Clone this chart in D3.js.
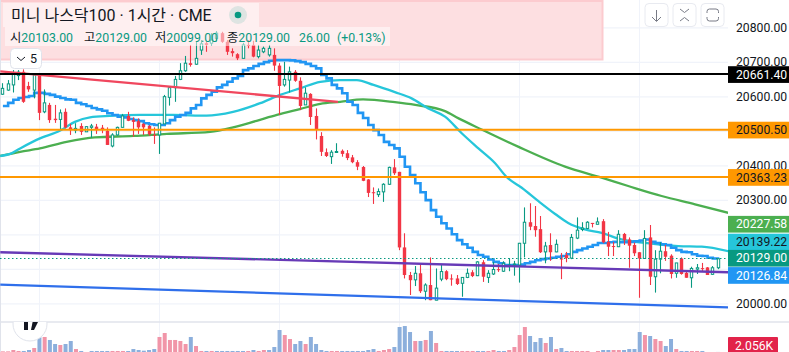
<!DOCTYPE html>
<html>
<head>
<meta charset="utf-8">
<script src="https://cdn.jsdelivr.net/npm/d3@7"></script>
<style>
html, body { margin: 0; padding: 0; background: #fff; overflow: hidden; }
svg { display: block; }
text { font-family: Roboto, "Noto Sans CJK KR", sans-serif; }
</style>
</head>
<body>
<script>
// hourly candles
const opens = [
20606,20618,20633,20660,20671,20630,20618,20662,20555,20575,
20535,20533,20555,20510,20502,20514,20497,20510,20512,20509,
20500,20456,20488,20510,20543,20531,20528,20520,20514,20488,
20488,20520,20597,20625,20649,20674,20696,20693,20734,20754,
20754,20768,20783,20758,20731,20722,20710,20749,20749,20715,
20729,20720,20720,20689,20633,20647,20671,20645,20575,20607,
20543,20485,20438,20425,20439,20442,20435,20423,20409,20395,
20359,20322,20315,20323,20345,20394,20381,20162,20082,20068,
20087,20035,20053,20009,20070,20093,20072,20072,20058,20075,
20090,20080,20119,20075,20085,20099,20093,20109,20111,20111,
20174,20235,20224,20215,20149,20169,20149,20130,20140,20131,
20189,20214,20217,20233,20229,20238,20178,20166,20164,20201,
20185,20169,20148,20130,20191,20077,20128,20151,20138,20087,
20130,20088,20074,20099,20102,20104,20084,20103];
const closes = [
20623,20636,20665,20670,20584,20620,20662,20552,20581,20531,
20531,20552,20510,20502,20507,20497,20512,20514,20502,20502,
20459,20488,20510,20543,20529,20526,20510,20510,20490,20486,
20522,20599,20625,20649,20674,20696,20691,20710,20752,20749,
20763,20783,20758,20729,20725,20710,20749,20746,20715,20734,
20739,20739,20689,20630,20649,20671,20645,20572,20609,20540,
20504,20439,20427,20438,20440,20433,20421,20409,20396,20355,
20320,20319,20324,20345,20394,20377,20162,20082,20067,20087,
20035,20053,20009,20044,20092,20070,20070,20056,20075,20087,
20079,20120,20077,20087,20098,20096,20116,20111,20114,20174,
20235,20222,20212,20148,20166,20148,20171,20127,20131,20191,
20212,20218,20235,20230,20236,20177,20164,20164,20200,20183,
20167,20145,20130,20188,20077,20128,20151,20135,20085,20117,
20085,20074,20101,20103,20099,20082,20103,20129];
const highs = [
20638,20647,20676,20676,20678,20642,20665,20667,20620,20581,
20575,20562,20565,20520,20522,20522,20514,20520,20520,20517,
20510,20493,20512,20549,20555,20539,20536,20522,20517,20510,
20522,20604,20628,20659,20696,20717,20749,20758,20763,20758,
20783,20789,20787,20763,20739,20725,20755,20763,20761,20749,
20744,20749,20739,20696,20700,20686,20676,20655,20626,20609,
20565,20496,20449,20444,20464,20446,20444,20430,20415,20398,
20360,20336,20333,20348,20396,20418,20381,20203,20091,20108,
20116,20058,20133,20101,20114,20096,20084,20082,20076,20101,
20096,20122,20125,20096,20120,20114,20122,20131,20123,20175,
20278,20290,20282,20253,20178,20203,20185,20146,20149,20201,
20249,20235,20238,20233,20249,20244,20207,20178,20212,20204,
20191,20176,20148,20212,20227,20154,20177,20169,20142,20117,
20133,20091,20106,20114,20117,20105,20108,20129];
const lows = [
20604,20616,20611,20647,20581,20613,20594,20531,20551,20523,
20523,20504,20507,20488,20493,20488,20497,20480,20491,20493,
20459,20452,20486,20510,20528,20483,20491,20488,20486,20462,
20433,20520,20573,20584,20647,20671,20686,20691,20720,20729,
20746,20758,20755,20720,20715,20705,20710,20739,20713,20710,
20725,20715,20674,20546,20628,20611,20642,20560,20575,20517,
20475,20427,20424,20404,20438,20425,20415,20406,20386,20354,
20308,20288,20308,20294,20343,20372,20154,20072,20024,20050,
20030,20009,20009,20009,20064,20067,20051,20053,20019,20073,
20076,20079,20062,20059,20082,20091,20091,20093,20080,20060,
20133,20212,20193,20146,20116,20123,20148,20070,20119,20128,
20186,20209,20215,20220,20229,20174,20137,20137,20163,20169,
20103,20137,20016,20130,20053,20031,20087,20123,20072,20074,
20083,20074,20045,20085,20093,20082,20082,20099];

// volume in thousands, the pane cuts the bars off at the bottom
const volumes = [
3.2,3.2,5.8,3.9,3.9,5.8,9.7,30.3,31,25.2,
17.4,15.5,17.4,23.2,7.7,3.9,1.5,3.9,3.9,3.9,
3.9,3.9,3.9,3.9,3.9,7.7,5.8,4.5,5.8,7.7,
31,38.7,25.2,25.2,23.2,17.4,31,13.5,3.9,3.9,
3.9,3.9,3.9,3.9,3.9,3.9,3.9,3.9,5.8,3.9,
5.8,5.8,11.6,44.5,34.8,27.1,17.4,23.2,17.4,31,
17.4,5.8,3.9,3.9,3.9,3.9,3.9,3.9,3.9,3.9,
5.8,7.7,3.9,5.8,7.7,11.6,50.3,52.2,40.6,23.2,
23.2,25.2,42.6,19.4,3.9,3.9,3.9,3.9,3.9,3.9,
3.9,3.9,3.9,3.9,5.8,3.9,3.9,5.8,11.6,34.8,
50.3,32.9,21.3,29,19.4,31,7.7,9.7,3.9,3.9,
3.9,3.9,3.9,1.5,3.9,5.8,5.8,5.8,5.8,5.8,
7.7,7.7,40.6,34.8,32.9,27.1,23.2,13.5,27.1,7.7,
3.9,3.9,3.9,3.9,3.9,1.5,1.5,2.056];
const volDownBars = [0,1,2,3,6,8,11,14,21,22,23,30,31,32,33,34,35,37,38,40,47,49,50,54,55,58,63,64,72,73,74,79,81,83,84,88,89,90,93,94,97,98,99,100,104,106,109,110,111,112,114,117,118,123,125,126,129,132,133];

// stepped line
const stepValues = [
20572,20581,20590,20595,20598,20601,20610,20610,20607,20604,
20599,20595,20591,20590,20581,20577,20572,20566,20562,20558,
20551,20546,20541,20539,20534,20531,20528,20522,20519,20517,
20517,20522,20531,20541,20546,20552,20565,20575,20594,20604,
20613,20626,20633,20642,20652,20659,20676,20681,20688,20694,
20699,20703,20705,20705,20705,20704,20702,20699,20694,20688,
20681,20662,20652,20633,20623,20609,20584,20575,20552,20537,
20517,20502,20488,20468,20459,20449,20425,20396,20372,20348,
20322,20299,20270,20251,20232,20217,20200,20183,20171,20161,
20149,20140,20135,20127,20120,20116,20111,20111,20111,20112,
20116,20120,20125,20128,20130,20132,20135,20137,20142,20149,
20154,20159,20164,20169,20175,20175,20177,20178,20177,20177,
20178,20180,20182,20185,20178,20175,20171,20169,20161,20154,
20149,20148,20142,20138,20137,20132,20130,20126.84];

// smooth averages, read at a few bars each
const cyanBars = [-0.5,1.4,3.3,7.1,10.9,13.8,16.7,20.5,26.3,32.6,39,44.1,49.3,53.1,56.9,60.8,64.6,67.8,71,75.1,78.3,81.5,84.7,87.9,91.1,94.3,96.5,99.4,102.6,105.8,108.3,111.5,114.7,118.5,123,129.4,133.9,139];
const cyanValues = [20427,20433,20449,20478,20500,20526,20539,20543,20546,20546,20544,20555,20580,20604,20623,20642,20647,20647,20633,20612,20594,20565,20541,20493,20449,20406,20366,20335,20296,20259,20233,20214,20204,20185,20175,20166,20164,20151];
const greenBars = [-0.5,3.3,7.1,12.2,17.6,25,31.4,39.7,44.1,48.6,52.5,56.9,60.8,64.6,69,75.1,79,84.7,87.3,91.7,98.7,107.7,114.7,119.8,126.2,132.6,139];
const greenValues = [20427,20439,20449,20468,20481,20485,20491,20497,20510,20529,20546,20563,20578,20584,20591,20583,20575,20557,20536,20504,20454,20396,20364,20340,20311,20287,20262];

// trend lines, [bar, price]
const redTrend = [[-0.5,20672],[64.2,20584]];
const purpleTrend = [[-0.5,20148],[139,20090]];
const blueTrend = [[-0.5,20054],[139,19988]];

const levels = [20661.40, 20500.50, 20363.23];
const priceTicks = [20000,20100,20200,20300,20400,20500,20600,20700,20800];
const coveredTicks = [20100,20200,20500]; // fully under the coloured labels
const dayBars = [7,30,53,76,99,122];

const lastClose = 20129.00;
const stepLast = 20126.84;
const cyanLast = 20139.22;
const greenLast = 20227.58;
const volumeLabel = "2.056K";

const titleText = "미니 나스닥100 · 1시간 · CME";
const ohlcKeys = ["시","고","저","종"];
const ohlcVals = ["20103.00","20129.00","20099.00","20129.00"];
const changeText = ["26.00","(+0.13%)"];

const width = 789, height = 352;
const paneRight = 728, paneBottom = 322;
const upColor = "#089981", downColor = "#f23645";

const x = d3.scaleLinear().domain([0,137]).range([2.9,718]);
const y = d3.scaleLinear().domain([20000,20800]).range([303.3,27.3]);
const yVol = d3.scaleLinear().domain([0,60]).range([353,322]);

const svg = d3.select("body").append("svg").attr("width",width).attr("height",height);

svg.append("clipPath").attr("id","pane").append("rect").attr("width",paneRight).attr("height",paneBottom);
svg.append("clipPath").attr("id","volPane").append("rect").attr("y",paneBottom).attr("width",paneRight).attr("height",height-paneBottom);

// grid
const gridGroup = svg.append("g");
gridGroup.selectAll("line.v").data(dayBars).enter().append("line")
	.attr("x1",function(d){ return Math.floor(x(d))+0.5; })
	.attr("x2",function(d){ return Math.floor(x(d))+0.5; })
	.attr("y1",0).attr("y2",height)
	.attr("stroke","#f0f3fa");
const yGrid = d3.axisLeft(y).tickValues(priceTicks).tickSize(paneRight).tickFormat("");
gridGroup.append("g").attr("transform","translate("+paneRight+",0)").call(yGrid)
	.call(function(g){ g.select(".domain").remove(); })
	.selectAll("line").attr("stroke","#f0f3fa").attr("stroke-width",1.2);

// pink zone behind the candles
svg.append("rect").attr("x",-2).attr("y",1).attr("width",604.5).attr("height",58.5)
	.attr("fill","#fddfe1").attr("stroke","#fccbcf").attr("stroke-width",2);

// pane borders
svg.append("line").attr("x1",0.5).attr("x2",0.5).attr("y1",0).attr("y2",height).attr("stroke","#e0e3eb");
svg.append("line").attr("x1",0).attr("x2",width).attr("y1",paneBottom).attr("y2",paneBottom).attr("stroke","#e0e3eb").attr("stroke-width",1.5);

// volume
svg.append("g").attr("clip-path","url(#volPane)").selectAll("rect").data(volumes).enter().append("rect")
	.attr("x",function(d,i){ return x(i)-2; })
	.attr("width",4)
	.attr("y",function(d){ return yVol(d); })
	.attr("height",function(d){ return yVol(0)-yVol(d); })
	.attr("fill",function(d,i){ return volDownBars.indexOf(i)>=0 ? "#f195a8" : "#8cafdc"; });

const plot = svg.append("g").attr("clip-path","url(#pane)");

// averages
const smooth = d3.line().x(function(d){ return x(d[0]); }).y(function(d){ return y(d[1]); }).curve(d3.curveMonotoneX);
plot.append("path").attr("d",smooth(d3.zip(greenBars,greenValues)))
	.attr("fill","none").attr("stroke","#4caf50").attr("stroke-width",2.3);
plot.append("path").attr("d",smooth(d3.zip(cyanBars,cyanValues)))
	.attr("fill","none").attr("stroke","#26c6da").attr("stroke-width",2.3);

const stepped = d3.line().x(function(d,i){ return x(i); }).y(function(d){ return y(d); }).curve(d3.curveStepAfter);
plot.append("path").attr("d",stepped(stepValues))
	.attr("fill","none").attr("stroke","#2196f3").attr("stroke-width",2.6);

// candles
const candle = plot.selectAll("g.candle").data(closes).enter().append("g").attr("class","candle");
function cx(i){ return Math.round(x(i)-0.5)+0.5; }
candle.append("line")
	.attr("x1",function(d,i){ return cx(i); })
	.attr("x2",function(d,i){ return cx(i); })
	.attr("y1",function(d,i){ return y(highs[i]); })
	.attr("y2",function(d,i){ return y(lows[i]); })
	.attr("stroke",function(d,i){ return d>=opens[i] ? upColor : downColor; })
	.attr("stroke-width",1.1);
candle.append("rect")
	.attr("x",function(d,i){ return d>=opens[i] ? cx(i)-1.2 : cx(i)-1.7; })
	.attr("width",function(d,i){ return d>=opens[i] ? 2.4 : 3.4; })
	.attr("y",function(d,i){ return y(Math.max(d,opens[i])); })
	.attr("height",function(d,i){ return Math.max(1,Math.abs(y(d)-y(opens[i]))); })
	.attr("fill",function(d,i){ return d>=opens[i] ? "#fff" : downColor; })
	.attr("stroke",function(d,i){ return d>=opens[i] ? upColor : "none"; })
	.attr("stroke-width",1);

// drawings on top of the candles
const straight = d3.line().x(function(d){ return x(d[0]); }).y(function(d){ return y(d[1]); });
plot.append("path").attr("d",straight(redTrend)).attr("fill","none").attr("stroke","#f0475e").attr("stroke-width",2.3);
plot.append("path").attr("d",straight(purpleTrend)).attr("fill","none").attr("stroke","#673ab7").attr("stroke-width",2.3);
plot.append("path").attr("d",straight(blueTrend)).attr("fill","none").attr("stroke","#2f6feb").attr("stroke-width",2.3);

plot.selectAll("line.level").data(levels).enter().append("line")
	.attr("x1",0).attr("x2",paneRight)
	.attr("y1",function(d){ return y(d)-1; })
	.attr("y2",function(d){ return y(d)-1; })
	.attr("stroke",function(d,i){ return i==0 ? "#000" : "#ff9800"; })
	.attr("stroke-width",2);

plot.append("line").attr("x1",0).attr("x2",paneRight)
	.attr("y1",Math.round(y(lastClose))-0.5).attr("y2",Math.round(y(lastClose))-0.5)
	.attr("stroke",upColor).attr("stroke-dasharray","1.5 2.5");

// price axis
const yAxis = d3.axisRight(y).tickValues(priceTicks).tickSize(0).tickPadding(8).tickFormat(d3.format(".2f"));
const axisGroup = svg.append("g").attr("transform","translate("+paneRight+",0)").call(yAxis);
axisGroup.select(".domain").remove();
axisGroup.selectAll(".tick").filter(function(d){ return coveredTicks.indexOf(d)>=0; }).remove();
axisGroup.selectAll("text").attr("font-family",'Roboto, sans-serif').attr("font-size",12.2).attr("fill","#131722");

// price labels, the bottom three get pushed apart around the close
const labelStep = 16.7;
const priceLabels = [
	{ value:levels[0], bg:"#000", fg:"#fff" },
	{ value:levels[1], bg:"#ff9800", fg:"#131722" },
	{ value:levels[2], bg:"#ff9800", fg:"#131722" },
	{ value:greenLast, bg:"#4caf50", fg:"#fff" },
	{ value:cyanLast, pos:y(lastClose)-labelStep, bg:"#26c6da", fg:"#131722" },
	{ value:lastClose, bg:upColor, fg:"#fff" },
	{ value:stepLast, pos:y(lastClose)+labelStep, bg:"#2196f3", fg:"#fff" }
];
const labelGroup = svg.selectAll("g.priceLabel").data(priceLabels).enter().append("g")
	.attr("transform",function(d){ return "translate("+paneRight+","+(d.pos!==undefined ? d.pos : y(d.value)-0.5)+")"; });
labelGroup.append("rect").attr("y",-8.4).attr("width",width-paneRight).attr("height",16.7)
	.attr("fill",function(d){ return d.bg; });
labelGroup.append("text").attr("x",8).attr("dy","0.33em").attr("font-size",12.2)
	.attr("fill",function(d){ return d.fg; })
	.text(function(d){ return d3.format(".2f")(d.value); });

svg.append("rect").attr("x",paneRight).attr("y",337).attr("width",50).attr("height",17).attr("rx",1).attr("fill","#e2234a");
svg.append("text").attr("x",paneRight+7).attr("y",349.5).attr("font-size",12.2).attr("fill","#fff").text(volumeLabel);

// legend
svg.append("rect").attr("x",3).attr("y",3).attr("width",256).attr("height",24).attr("fill","#fff").attr("opacity",0.5);
svg.append("rect").attr("x",5).attr("y",27).attr("width",385).attr("height",19).attr("fill","#fff").attr("opacity",0.5);
svg.append("text").attr("x",11).attr("y",21).attr("font-size",16).attr("fill","#131722").text(titleText);
svg.append("circle").attr("cx",238).attr("cy",15).attr("r",9).attr("fill","#089981").attr("opacity",0.13);
svg.append("circle").attr("cx",238).attr("cy",15).attr("r",3.3).attr("fill","#089981");

const ohlc = svg.append("text").attr("y",42).attr("font-size",12.3);
ohlcKeys.forEach(function(k,i){
	ohlc.append("tspan").attr("x",[10,84,155,227][i]).attr("fill","#131722").text(k);
	ohlc.append("tspan").attr("fill",upColor).text(ohlcVals[i]);
});
ohlc.append("tspan").attr("x",299).attr("fill",upColor).text(changeText[0]);
ohlc.append("tspan").attr("x",337).attr("fill",upColor).text(changeText[1]);

// collapse button
svg.append("rect").attr("x",10.5).attr("y",48.5).attr("width",31).attr("height",20).attr("rx",4).attr("fill","#fff").attr("stroke","#e0e3eb");
svg.append("path").attr("d","M17 57 l4 3.5 l4 -3.5").attr("fill","none").attr("stroke","#131722");
svg.append("text").attr("x",30).attr("y",63).attr("font-size",12.5).attr("fill","#131722").text("5");

// chart buttons
[645,673,701].forEach(function(bx){
	svg.append("rect").attr("x",bx).attr("y",3.5).attr("width",23).attr("height",23).attr("rx",4).attr("fill","#fff").attr("stroke","#e8eaf0");
});
const icons = ["M656.5 10 V21 M652 17 l4.5 4.5 l4.5 -4.5",
	"M680 9 l4.5 3.5 l4.5 -3.5 M680 21 l4.5 -3.5 l4.5 3.5",
	"M707 13 v-1.5 q0 -2.5 2.5 -2.5 h6.5 q2.5 0 2.5 2.5 v1.5 M707 17 v1.5 q0 2.5 2.5 2.5 h6.5 q2.5 0 2.5 -2.5 v-1.5"];
icons.forEach(function(p){
	svg.append("path").attr("d",p).attr("fill","none").attr("stroke","#787b86");
});

// watermark logo, cut by the pane border
const logo = svg.append("g").attr("clip-path","url(#volPane)");
logo.append("circle").attr("cx",30).attr("cy",324).attr("r",17).attr("fill","#fff").attr("stroke","#e0e3eb");
logo.append("rect").attr("x",24).attr("y",320).attr("width",4).attr("height",10).attr("fill","#131722");
logo.append("path").attr("d","M33 320 h6 l-5 10 h-3 z").attr("fill","#131722");
</script>
</body>
</html>
